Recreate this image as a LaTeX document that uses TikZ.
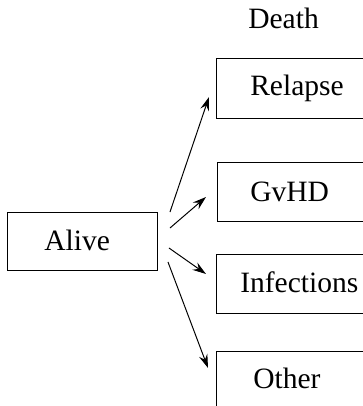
\documentclass[tikz,border=0pt]{standalone}
\usepackage{fontspec}
\setmainfont{Liberation Serif}
\usepackage{tikz}
\usetikzlibrary{arrows.meta,calc}

\tikzset{
  statebox/.style={draw, rectangle, line width=0.7pt, minimum height=1.47cm, inner sep=0pt},
  lbl/.style={anchor=base west, inner sep=0pt, font=\fontsize{21}{25}\selectfont},
  trans/.style={-{Stealth[length=3.4mm,width=2.2mm,inset=1.2mm]}, line width=0.7pt}
}

\begin{document}
\begin{tikzpicture}
\useasboundingbox (0,0) rectangle (9.05,10.15);
% \draw (0,0) rectangle (9.05,10.15);
\node[statebox, minimum width=3.75cm, anchor=west] (alive) at (0.175,4.1125) {};
\node[lbl] (alivetxt) at (1.1,3.9) {Alive};
%
\node[lbl] (death) at (6.2,9.45) {Death};
\node[statebox, minimum width=5cm, minimum height=1.5cm, anchor=west] (relapse) at (5.4,7.95) {};
\node[lbl] (relapsetxt) at (6.25,7.775) {Relapse};
\node[statebox, minimum width=5cm, anchor=west] (gvhd) at (5.425,5.35) {};
\node[lbl] (gvhdtxt) at (6.25,5.1) {GvHD};
\node[statebox, minimum width=5cm, anchor=west] (infections) at (5.4,3.05) {};
\node[lbl] (infectionstxt) at (6.0,2.825) {Infections};
\node[statebox, minimum width=5cm, anchor=west] (other) at (5.4,0.6375) {};
\node[lbl] (othertxt) at (6.325,0.45) {Other};
%
\draw[trans] ($(alive.east)+(0.3,0.7375)$) -- ($(relapse.west)+(-0.175,-0.225)$);
\draw[trans] ($(alive.east)+(0.3,0.3375)$) -- ($(gvhd.west)+(-0.275,-0.125)$);
\draw[trans] ($(alive.east)+(0.275,-0.1625)$) -- ($(infections.west)+(-0.25,0.25)$);
\draw[trans] ($(alive.east)+(0.25,-0.5125)$) -- ($(other.west)+(-0.2,0.3125)$);
\end{tikzpicture}
\end{document}
